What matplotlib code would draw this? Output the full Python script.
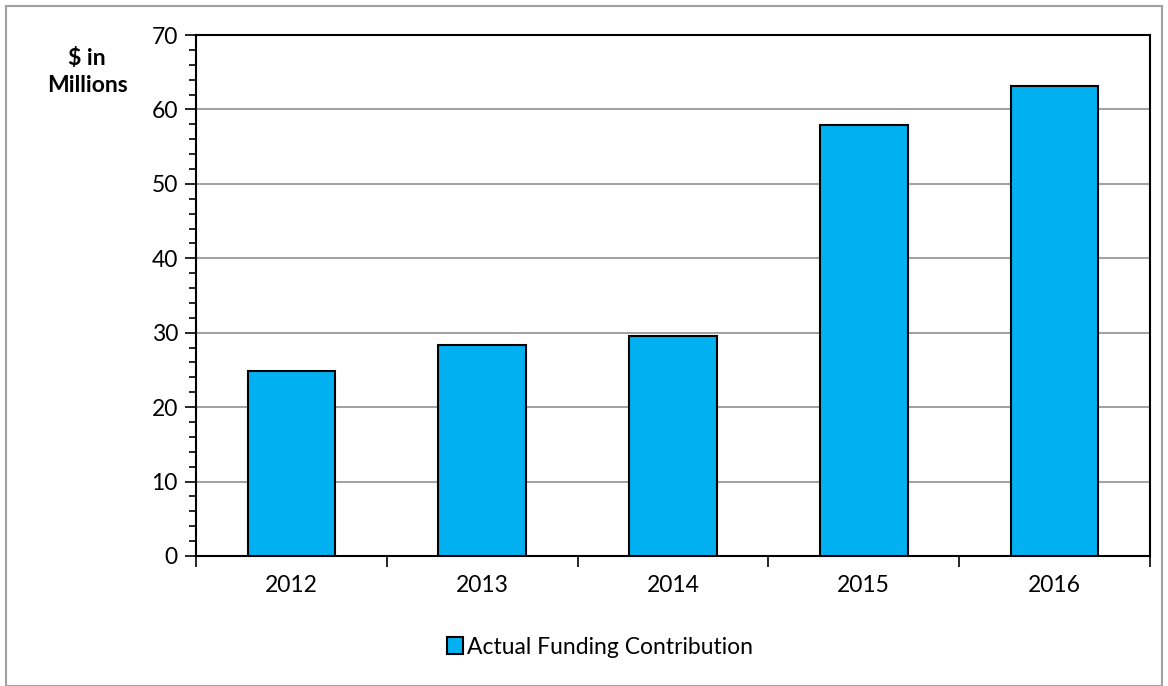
import matplotlib.pyplot as plt
from matplotlib.ticker import MultipleLocator, FixedLocator
from matplotlib.patches import Rectangle

years = ['2012', '2013', '2014', '2015', '2016']
funding = [24.9, 28.3, 29.6, 57.9, 63.1]

plt.rcParams['font.family'] = ['Lato', 'DejaVu Sans']

fig = plt.figure(figsize=(11.68, 6.86), dpi=100)
ax = fig.add_axes([196 / 1168, 1 - 556 / 686, (1150 - 196) / 1168, (556 - 35) / 686])

x = range(len(years))
bars = ax.bar(x, funding, width=0.46, color='#00B0F0', edgecolor='black',
              linewidth=1.5, label='Actual Funding Contribution', zorder=3)

ax.set_xlim(-0.5, len(years) - 0.5)
ax.set_ylim(0, 70)
ax.yaxis.set_major_locator(MultipleLocator(10))
ax.yaxis.set_minor_locator(MultipleLocator(2))
ax.grid(axis='y', which='major', color='#999999', linewidth=1.3, zorder=0)

ax.set_xticks(list(x))
ax.set_xticklabels(years, fontsize=16.5)
ax.tick_params(axis='x', which='major', length=0, pad=14)
ax.xaxis.set_minor_locator(FixedLocator([i - 0.5 for i in range(len(years) + 1)]))
ax.tick_params(axis='x', which='minor', length=8, width=1.2, direction='out')
ax.tick_params(axis='y', which='major', length=8, width=1.2, labelsize=16.5, pad=5)
ax.tick_params(axis='y', which='minor', length=5, width=1.2)

for s in ax.spines.values():
    s.set_color('black')
    s.set_linewidth(1.5)

fig.text(87 / 1168, 1 - 72 / 686, '$ in\nMillions', fontsize=16.5, fontweight='bold',
         ha='center', va='center', linespacing=1.35)

fig.legend(handles=[bars], loc='center', bbox_to_anchor=(600 / 1168, 1 - 647 / 686),
           frameon=False, fontsize=16.5, handlelength=0.7, handleheight=0.7,
           handletextpad=0.15)

fig.add_artist(Rectangle((6 / 1168, 0), 1156 / 1168, 1 - 6 / 686, transform=fig.transFigure,
                         fill=False, edgecolor='#a0a0a0', linewidth=1.5))

fig.savefig('out.png', dpi=100)
